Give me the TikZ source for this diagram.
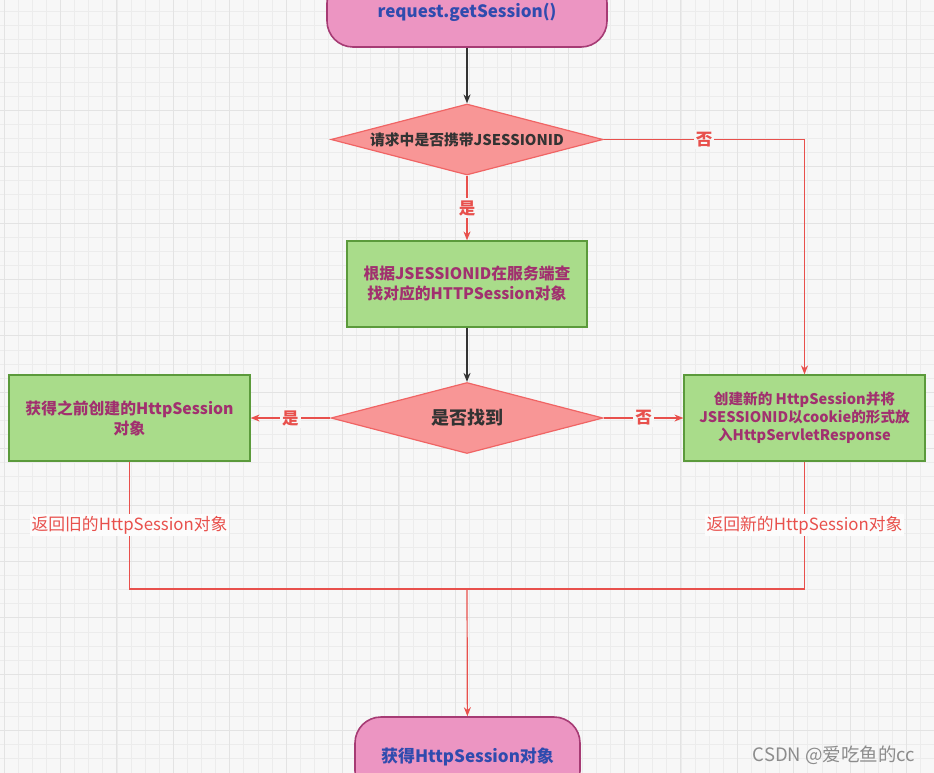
\documentclass[tikz,border=0pt]{standalone}
\usepackage{fontspec}
\setmainfont{Noto Sans CJK SC}
\usetikzlibrary{positioning, arrows.meta, shapes.geometric}
\definecolor{bgcol}{HTML}{F7F7F7}
\definecolor{gridminor}{HTML}{ECECEC}
\definecolor{gridmajor}{HTML}{E3E3E3}
\definecolor{termfill}{HTML}{EC95C2}
\definecolor{termdraw}{HTML}{A63B74}
\definecolor{termtext}{HTML}{2F4BAE}
\definecolor{decfill}{HTML}{F89696}
\definecolor{decdraw}{HTML}{F06464}
\definecolor{boxfill}{HTML}{A9DC8A}
\definecolor{boxdraw}{HTML}{5B9A3B}
\definecolor{boxtext}{HTML}{A1306F}
\definecolor{linered}{HTML}{E8504C}
\definecolor{darkline}{HTML}{333333}
\tikzset{
  terminal/.style={draw=termdraw, fill=termfill, line width=1.6pt, rounded corners=26pt,
    text=termtext, font=\fontsize{17}{20}\selectfont\bfseries},
  decision/.style={diamond, draw=decdraw, fill=decfill, line width=1.2pt, inner sep=0pt,
    aspect=3.83, minimum width=272pt, minimum height=71pt,
    text=darkline, font=\fontsize{14.8}{18}\selectfont\bfseries},
  process/.style={draw=boxdraw, fill=boxfill, line width=1.2pt, minimum width=240pt,
    minimum height=86pt, align=center, text=boxtext,
    font=\fontsize{15.8}{20}\selectfont\bfseries},
  darrow/.style={draw=darkline, line width=1.4pt, -{Stealth[length=9pt,width=7pt]}},
  rarrow/.style={draw=linered, line width=1.2pt, -{Stealth[length=9pt,width=7pt]}},
  rline/.style={draw=linered, line width=1.2pt},
  choice/.style={fill=bgcol, text=linered, inner sep=2pt, font=\fontsize{16.5}{19}\selectfont\bfseries},
  retlabel/.style={fill=bgcol!40!white, text=linered, inner sep=2pt, font=\fontsize{16.8}{19}\selectfont}
}
\begin{document}
\begin{tikzpicture}[x=1pt, y=-1pt]
        % Background grid
        \fill[bgcol] (0,0) rectangle (934,773);
        \useasboundingbox (0,0) rectangle (934,773);
        \foreach \gx in {4.1,18.2,...,934} \draw[gridminor, line width=0.8pt] (\gx,0) -- (\gx,773);
        \foreach \gy in {11.5,25.6,...,773} \draw[gridminor, line width=0.8pt] (0,\gy) -- (934,\gy);
        \foreach \gx in {4.1,60.5,...,934} \draw[gridmajor, line width=1pt] (\gx,0) -- (\gx,773);
        \foreach \gy in {-2.6,53.8,...,773} \draw[gridmajor, line width=1pt] (0,\gy) -- (934,\gy);

        % Nodes
        \node[terminal, minimum width=280pt, minimum height=70pt] (start) at (467,12) {request.getSession()};
        \node[decision] (hasid) at (467,139.5) {请求中是否携带JSESSIONID};
        \node[process] (lookup) at (467,284) {根据JSESSIONID在服务端查\\找对应的HTTPSession对象};
        \node[decision] (found) at (467,418) {\fontsize{18}{21}\selectfont 是否找到};
        \node[process, minimum width=241pt] (oldsess) at (129.5,418) {获得之前创建的HttpSession\\对象};
        \node[process, minimum width=241pt, font=\fontsize{14.6}{18}\selectfont\bfseries] (newsess) at (804.5,418)
            {创建新的 HttpSession并将\\JSESSIONID以cookie的形式放\\入HttpServletResponse};
        \node[terminal, minimum width=225pt, minimum height=80pt] (result) at (467.5,757) {获得HttpSession对象};
        \coordinate (merge) at (467,589);

        % Connectors
        \draw[darrow] (start) -- (hasid);
        \draw[rarrow] (hasid.east) -| node[choice, pos=0.25] {否} (newsess.north);
        \draw[rarrow] (hasid) -- node[choice] {是} (lookup);
        \draw[darrow] (lookup) -- (found);
        \draw[rarrow] (found) -- node[choice] {是} (oldsess);
        \draw[rarrow] (found) -- node[choice] {否} (newsess);
        \draw[rline] (oldsess.south) |- node[retlabel, pos=0.25] {返回旧的HttpSession对象} (merge);
        \draw[rline] (newsess.south) |- node[retlabel, pos=0.25] {返回新的HttpSession对象} (merge);
        \draw[rarrow] (merge) -- (result);

        % Source mark
        \node[text=black!45, font=\fontsize{18.5}{21}\selectfont] (mark) at (834,755) {CSDN @爱吃鱼的cc};
    \end{tikzpicture}
\end{document}
